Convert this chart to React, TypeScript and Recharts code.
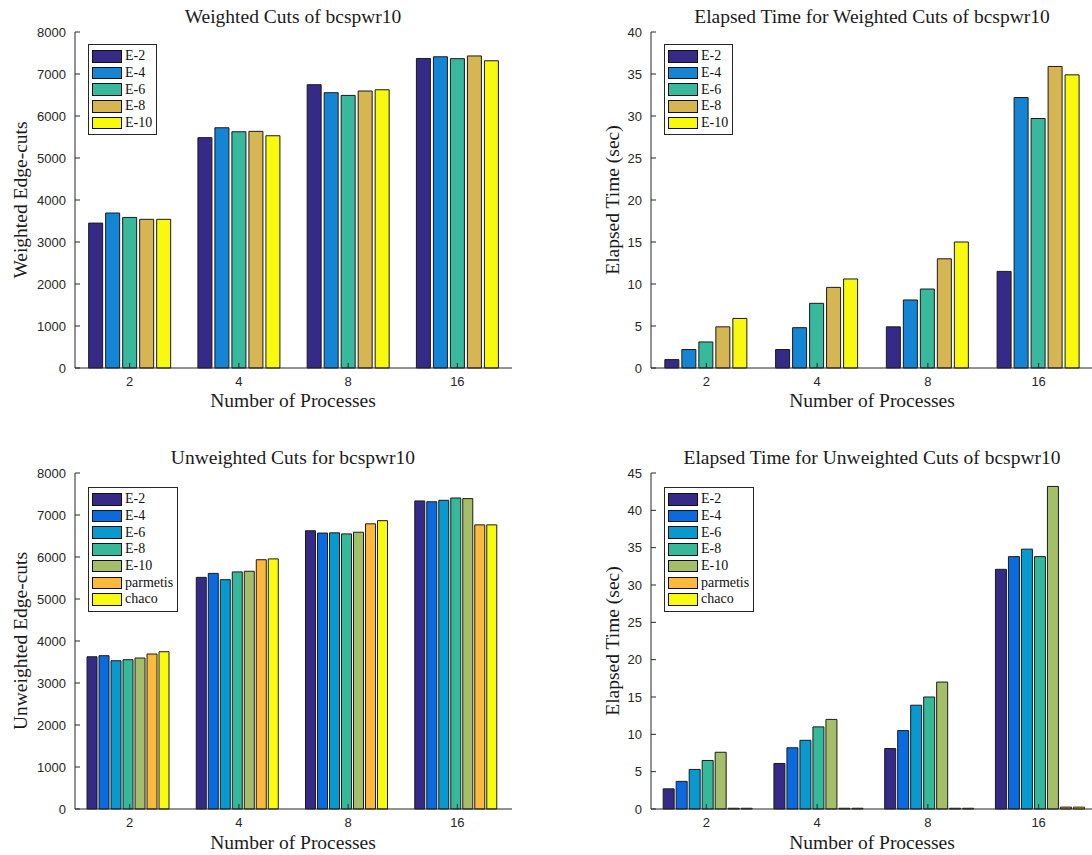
import { BarChart, Bar, XAxis, YAxis, Legend } from "recharts";

const procs = ["2", "4", "8", "16"];

const weightedNames = ["E-2", "E-4", "E-6", "E-8", "E-10"];
const weightedColors = ["#352a87", "#1485d4", "#38b89d", "#d5b652", "#f8f90f"];
const unweightedNames = ["E-2", "E-4", "E-6", "E-8", "E-10", "parmetis", "chaco"];
const unweightedColors = ["#352a87", "#0a6be0", "#0899cf", "#36b89a", "#a5be6a", "#fcb93c", "#f8fa10"];

// one row per series, one column per process count
const weightedCuts = [
  [3450, 5485, 6745, 7370],
  [3690, 5720, 6555, 7410],
  [3585, 5625, 6490, 7365],
  [3540, 5635, 6595, 7430],
  [3540, 5530, 6625, 7315],
];
const weightedTime = [
  [1.0, 2.2, 4.9, 11.5],
  [2.2, 4.8, 8.1, 32.2],
  [3.1, 7.7, 9.4, 29.7],
  [4.9, 9.6, 13.0, 35.9],
  [5.9, 10.6, 15.0, 34.9],
];
const unweightedCuts = [
  [3625, 5515, 6625, 7335],
  [3650, 5610, 6570, 7315],
  [3530, 5460, 6575, 7350],
  [3555, 5645, 6550, 7405],
  [3595, 5660, 6590, 7390],
  [3690, 5935, 6790, 6765],
  [3745, 5955, 6865, 6765],
];
const unweightedTime = [
  [2.7, 6.1, 8.1, 32.1],
  [3.7, 8.2, 10.5, 33.8],
  [5.3, 9.2, 13.9, 34.8],
  [6.5, 11.0, 15.0, 33.8],
  [7.6, 12.0, 17.0, 43.2],
  [0.1, 0.1, 0.1, 0.25],
  [0.1, 0.1, 0.1, 0.25],
];

const cutTicks = [0, 1000, 2000, 3000, 4000, 5000, 6000, 7000, 8000];
const weightedTimeTicks = [0, 5, 10, 15, 20, 25, 30, 35, 40];
const unweightedTimeTicks = [0, 5, 10, 15, 20, 25, 30, 35, 40, 45];

const AXIS = "#262626";
const SERIF = "'Liberation Serif', 'Times New Roman', serif";
const SANS = "'Liberation Sans', Arial, sans-serif";

function LegendBox({ names, colors }: { names: string[]; colors: string[] }) {
  return (
    <div
      style={{
        border: `1px solid ${AXIS}`,
        background: "#fff",
        padding: "3px 4px 3px 3px",
        fontFamily: SERIF,
        fontSize: 14,
        color: "#111",
        lineHeight: 1,
      }}
    >
      {names.map((n, i) => (
        <div key={n} style={{ display: "flex", alignItems: "center", height: 16.7 }}>
          <span
            style={{
              display: "inline-block",
              width: 30,
              height: 12.5,
              boxSizing: "border-box",
              border: "1px solid #111",
              background: colors[i],
              marginRight: 3,
            }}
          />
          {n}
        </div>
      ))}
    </div>
  );
}

function Panel({
  left,
  top,
  width,
  height,
  marginTop,
  marginRight,
  names,
  colors,
  values,
  ticks,
  barGap,
  catGap,
  legendTop,
}: {
  left: number;
  top: number;
  width: number;
  height: number;
  marginTop: number;
  marginRight: number;
  names: string[];
  colors: string[];
  values: number[][];
  ticks: number[];
  barGap: number;
  catGap: string;
  legendTop: number;
}) {
  const rows = procs.map((p, i) => {
    const r: Record<string, string | number> = { p };
    names.forEach((n, j) => (r[n] = values[j][i]));
    return r;
  });
  const yMax = ticks[ticks.length - 1];
  return (
    <div style={{ position: "absolute", left, top }}>
      <BarChart
        width={width}
        height={height}
        data={rows}
        margin={{ top: marginTop, right: marginRight, bottom: 0, left: 0 }}
        barGap={barGap}
        barCategoryGap={catGap}
      >
        <XAxis
          dataKey="p"
          height={52}
          tickSize={-5}
          tickMargin={14}
          interval={0}
          axisLine={{ stroke: AXIS }}
          tickLine={{ stroke: AXIS }}
          tick={{ fontFamily: SANS, fontSize: 13, fill: AXIS }}
        />
        <XAxis
          xAxisId="top"
          dataKey="p"
          orientation="top"
          height={0}
          tickSize={-5}
          tick={false}
          interval={0}
          axisLine={{ stroke: AXIS }}
          tickLine={{ stroke: AXIS }}
        />
        <YAxis
          type="number"
          width={75}
          domain={[0, yMax]}
          ticks={ticks}
          interval={0}
          tickSize={-5}
          tickMargin={14}
          axisLine={{ stroke: AXIS }}
          tickLine={{ stroke: AXIS }}
          tick={{ fontFamily: SANS, fontSize: 13, fill: AXIS }}
        />
        <YAxis
          yAxisId="right"
          type="number"
          orientation="right"
          width={0}
          domain={[0, yMax]}
          ticks={ticks}
          interval={0}
          tickSize={-5}
          tick={false}
          allowDataOverflow
          axisLine={{ stroke: AXIS }}
          tickLine={{ stroke: AXIS }}
        />
        <Legend
          layout="vertical"
          align="center"
          verticalAlign="middle"
          wrapperStyle={{ left: 88, top: legendTop, width: "auto" }}
          content={() => <LegendBox names={names} colors={colors} />}
        />
        {names.map((n, j) => (
          <Bar
            key={n}
            dataKey={n}
            fill={colors[j]}
            stroke="#1a1a1a"
            strokeWidth={1}
            isAnimationActive={false}
          />
        ))}
      </BarChart>
    </div>
  );
}

function Labels() {
  const titleStyle = { fontFamily: SERIF, fontSize: 19.5, fill: "#1a1a1a" };
  return (
    <svg
      width={1092}
      height={855}
      style={{ position: "absolute", left: 0, top: 0, pointerEvents: "none" }}
    >
      <g textAnchor="middle" style={titleStyle}>
        <text x={293} y={22.5}>Weighted Cuts of bcspwr10</text>
        <text x={872} y={22.5}>Elapsed Time for Weighted Cuts of bcspwr10</text>
        <text x={293} y={464}>Unweighted Cuts for bcspwr10</text>
        <text x={872} y={464}>Elapsed Time for Unweighted Cuts of bcspwr10</text>

        <text x={293} y={406.5}>Number of Processes</text>
        <text x={872} y={406.5}>Number of Processes</text>
        <text x={293} y={849}>Number of Processes</text>
        <text x={872} y={849}>Number of Processes</text>

        <text transform="translate(27,200) rotate(-90)">Weighted Edge-cuts</text>
        <text transform="translate(619,200) rotate(-90)">Elapsed Time (sec)</text>
        <text transform="translate(27,641) rotate(-90)">Unweighted Edge-cuts</text>
        <text transform="translate(619,641) rotate(-90)">Elapsed Time (sec)</text>
      </g>
    </svg>
  );
}

export default function App() {
  return (
    <div
      style={{
        position: "fixed",
        left: 0,
        top: 0,
        width: 1092,
        height: 855,
        overflow: "hidden",
        background: "#fff",
      }}
    >
      <Panel
        left={0}
        top={0}
        width={530}
        height={420}
        marginTop={32}
        marginRight={18}
        names={weightedNames}
        colors={weightedColors}
        values={weightedCuts}
        ticks={cutTicks}
        barGap={3}
        catGap="12.5%"
        legendTop={44}
      />
      <Panel
        left={576}
        top={0}
        width={540}
        height={420}
        marginTop={32}
        marginRight={22}
        names={weightedNames}
        colors={weightedColors}
        values={weightedTime}
        ticks={weightedTimeTicks}
        barGap={3}
        catGap="12.5%"
        legendTop={44}
      />
      <Panel
        left={0}
        top={440}
        width={530}
        height={421}
        marginTop={33}
        marginRight={18}
        names={unweightedNames}
        colors={unweightedColors}
        values={unweightedCuts}
        ticks={cutTicks}
        barGap={2}
        catGap="11%"
        legendTop={47}
      />
      <Panel
        left={576}
        top={440}
        width={540}
        height={421}
        marginTop={33}
        marginRight={22}
        names={unweightedNames}
        colors={unweightedColors}
        values={unweightedTime}
        ticks={unweightedTimeTicks}
        barGap={2}
        catGap="11%"
        legendTop={47}
      />
      <Labels />
    </div>
  );
}
